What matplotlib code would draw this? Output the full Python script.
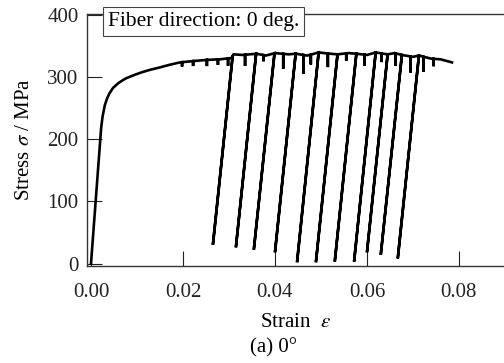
import numpy as np
import matplotlib
matplotlib.use('Agg')
import matplotlib.pyplot as plt

# main stress-strain envelope
curve_strain = [0, 0.0005, 0.001, 0.0015, 0.002, 0.0022, 0.0025, 0.003, 0.0035, 0.004,
                0.0048, 0.006, 0.0075, 0.0095, 0.011, 0.0128, 0.015, 0.017, 0.0193, 0.022,
                0.025, 0.028, 0.0305, 0.031, 0.033, 0.036, 0.038, 0.040, 0.043, 0.0445,
                0.047, 0.0495, 0.052, 0.0536, 0.056, 0.0577, 0.060, 0.0619, 0.0645, 0.066,
                0.0676, 0.070, 0.0713, 0.074, 0.076, 0.0785]
curve_stress = [0, 50, 100, 150, 200, 218, 236, 255, 266, 274,
                283, 291, 298, 304, 308, 312, 316, 320, 324, 326,
                328, 329, 331, 337, 336, 338, 335, 339, 337, 338,
                335, 340, 338, 337, 339, 338, 336, 340, 337, 339,
                336, 333, 335, 330, 329, 324]

# large unloading cycles: strain at top, strain and stress at bottom
unload_top_strain = [0.0308, 0.0359, 0.0399, 0.0445, 0.0495, 0.0536, 0.0577, 0.0619, 0.0645, 0.0676, 0.0713]
unload_bot_strain = [0.0265, 0.0315, 0.0354, 0.0400, 0.0448, 0.0489, 0.0530, 0.0572, 0.0600, 0.0630, 0.0667]
unload_bot_stress = [30, 26, 22, 18, 2, 2, 3, 3, 18, 14, 8]

# small partial unloadings
dip_strain = [0.0198, 0.0222, 0.0252, 0.0276, 0.0298, 0.0335, 0.0375, 0.0418, 0.0462, 0.0478,
              0.0515, 0.0555, 0.0595, 0.0632, 0.0662, 0.0695, 0.0723, 0.0745]
dip_depth = [7, 8, 10, 9, 12, 18, 10, 24, 30, 16, 22, 12, 18, 14, 20, 26, 24, 12]

plt.rcParams['font.family'] = 'Liberation Serif'
plt.rcParams['mathtext.fontset'] = 'stix'

# build one continuous path
events = []
for s, d in zip(dip_strain, dip_depth):
    events.append((s, 'dip', d))
for st, sb, yb in zip(unload_top_strain, unload_bot_strain, unload_bot_stress):
    events.append((st, 'unload', (sb, yb)))
events.sort(key=lambda e: e[0])

xs, ys = [], []
ei = 0
for i in range(len(curve_strain)):
    while ei < len(events) and events[ei][0] <= curve_strain[i]:
        s, kind, info = events[ei]
        y = np.interp(s, curve_strain, curve_stress)
        xs.append(s); ys.append(y)
        if kind == 'dip':
            xs.append(s); ys.append(y - info)
        else:
            xs.append(info[0]); ys.append(info[1])
        xs.append(s); ys.append(y)
        ei += 1
    xs.append(curve_strain[i]); ys.append(curve_stress[i])

fig = plt.figure(figsize=(5.04, 3.63), dpi=100)
ax = fig.add_axes([87/504, 97/363, 417/504, 252/363])
ax.plot(xs, ys, color='black', lw=1.9, solid_joinstyle='miter')

ax.set_xlim(-0.00087, 0.0898)
ax.set_ylim(-4, 402)
ax.set_xticks([0.00, 0.02, 0.04, 0.06, 0.08])
ax.set_xticklabels(['0.00', '0.02', '0.04', '0.06', '0.08'])
ax.set_yticks([0, 100, 200, 300, 400])
ax.tick_params(direction='in', length=11, width=0.8, labelsize=15, colors='#222222')
ax.tick_params(axis='x', pad=12)
ax.tick_params(axis='y', pad=6)
ax.spines['right'].set_visible(False)
for sp in ['left', 'bottom', 'top']:
    ax.spines[sp].set_linewidth(1.0)
    ax.spines[sp].set_color('#333333')

ax.set_xlabel(r'Strain  $\varepsilon$', fontsize=15, labelpad=8)
ax.set_ylabel(r'Stress $\sigma$ / MPa', fontsize=15, labelpad=10)

fig.text(108/504, 1 - 21.5/363, 'Fiber direction: 0 deg.', fontsize=15.5, va='center', ha='left',
         bbox=dict(boxstyle='square,pad=0.22', fc='white', ec='#444444', lw=0.8))
fig.text(274/504, 1 - 348/363, '(a) 0°', fontsize=15, ha='center', va='center')

fig.savefig('out.png', dpi=100)
